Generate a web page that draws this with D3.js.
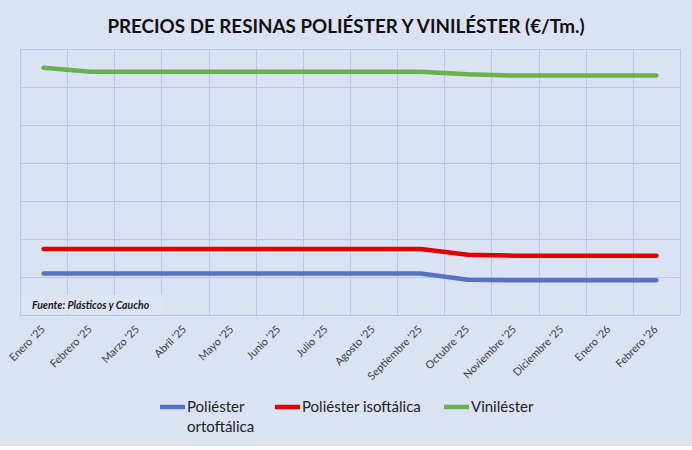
<!DOCTYPE html>
<html>
<head>
<meta charset="utf-8">
<script src="https://cdn.jsdelivr.net/npm/d3@7"></script>
<style>
  body { margin: 0; background: #ffffff; }
  svg { display: block; font-family: Lato, "Open Sans", sans-serif; }
</style>
</head>
<body>
<div id="chart"></div>
<script>
// Precios de resinas (€/Tm), valores estimados a partir del gráfico
const months = ["Enero '25", "Febrero '25", "Marzo '25", "Abril '25", "Mayo '25", "Junio '25",
  "Julio '25", "Agosto '25", "Septiembre '25", "Octubre '25", "Noviembre '25",
  "Diciembre '25", "Enero '26", "Febrero '26"];

const ortoftalica = [1545, 1545, 1545, 1545, 1545, 1545, 1545, 1545, 1545, 1465, 1457, 1457, 1457, 1457];
const isoftalica = [1868, 1868, 1868, 1868, 1868, 1868, 1868, 1868, 1868, 1793, 1780, 1780, 1780, 1780];
const vinilester = [4254, 4200, 4200, 4200, 4200, 4200, 4200, 4200, 4200, 4167, 4150, 4150, 4150, 4150];

const yTicks = [1000, 1500, 2000, 2500, 3000, 3500, 4000, 4500];

const series = [
  { name: ["Poliéster", "ortoftálica"], values: ortoftalica, color: "#5473c5" },
  { name: ["Poliéster isoftálica"], values: isoftalica, color: "#e00000" },
  { name: ["Viniléster"], values: vinilester, color: "#6ab04c" }
];

const width = 692, height = 450;
const margin = { top: 49, right: 12, bottom: 135, left: 20 };

const svg = d3.select('#chart').append('svg')
  .attr('width', width)
  .attr('height', height);

svg.append('rect')
  .attr('width', width)
  .attr('height', 446)
  .attr('fill', '#dbe2f3');

const x = d3.scaleBand()
  .domain(months)
  .range([margin.left, width - margin.right]);

const y = d3.scaleLinear()
  .domain([yTicks[0], yTicks[yTicks.length - 1]])
  .range([height - margin.bottom, margin.top]);

// gridlines
const grid = svg.append('g').attr('stroke', '#b6c7e8').attr('stroke-width', 1);
grid.selectAll('.hgrid')
  .data(yTicks)
  .join('line')
  .attr('x1', x.range()[0])
  .attr('x2', x.range()[1])
  .attr('y1', d => Math.round(y(d)) + 0.5)
  .attr('y2', d => Math.round(y(d)) + 0.5);

const bounds = months.map(m => x(m)).concat([x.range()[1]]);
grid.selectAll('.vgrid')
  .data(bounds)
  .join('line')
  .attr('x1', d => Math.round(d) + 0.5)
  .attr('x2', d => Math.round(d) + 0.5)
  .attr('y1', y.range()[1])
  .attr('y2', y.range()[0]);

// lines
const line = d3.line()
  .x((d, i) => x(months[i]) + x.bandwidth() / 2)
  .y(d => y(d));

svg.selectAll('.series')
  .data(series)
  .join('path')
  .attr('fill', 'none')
  .attr('stroke', d => d.color)
  .attr('stroke-width', 4.5)
  .attr('stroke-linecap', 'round')
  .attr('stroke-linejoin', 'round')
  .attr('d', d => line(d.values));

// source box
svg.append('rect')
  .attr('x', margin.left + 1)
  .attr('y', 295)
  .attr('width', 141)
  .attr('height', 19)
  .attr('fill', '#dde4f4');

svg.append('text')
  .attr('x', 32)
  .attr('y', 309)
  .attr('font-size', 10.5)
  .attr('font-weight', 'bold')
  .attr('font-style', 'italic')
  .attr('fill', '#1a1a1a')
  .text('Fuente: Plásticos y Caucho');

// x labels
svg.append('g')
  .selectAll('text')
  .data(months)
  .join('text')
  .attr('transform', d => `translate(${x(d) + x.bandwidth() / 2 + 2},${y.range()[0] + 15}) rotate(-45)`)
  .attr('text-anchor', 'end')
  .attr('font-size', 10.8)
  .attr('fill', '#404040')
  .text(d => d);

// title
svg.append('text')
  .attr('x', 346)
  .attr('y', 33)
  .attr('text-anchor', 'middle')
  .attr('font-size', 18.8)
  .attr('font-weight', 'bold')
  .attr('fill', '#111')
  .text('PRECIOS DE RESINAS POLIÉSTER Y VINILÉSTER (€/Tm.)');

// legend
const legendX = [160, 275, 444];
const legend = svg.append('g')
  .selectAll('g')
  .data(series)
  .join('g')
  .attr('transform', (d, i) => `translate(${legendX[i]},407)`);

legend.append('line')
  .attr('x1', 0)
  .attr('x2', 25)
  .attr('stroke', d => d.color)
  .attr('stroke-width', 4.5);

legend.append('text')
  .attr('font-size', 15)
  .attr('fill', '#222')
  .selectAll('tspan')
  .data(d => d.name)
  .join('tspan')
  .attr('x', 27)
  .attr('y', (d, i) => 5 + i * 20)
  .text(d => d);
</script>
</body>
</html>
